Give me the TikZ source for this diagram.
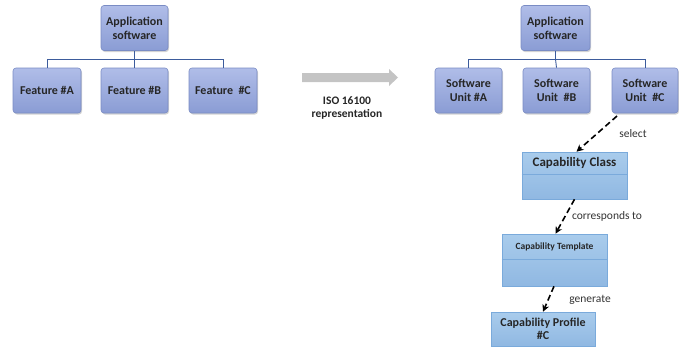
\documentclass[tikz,border=0pt]{standalone}
\usepackage{fontspec}
\setmainfont{Carlito}
\usetikzlibrary{arrows.meta,shadows}
\definecolor{treeTop}{HTML}{B0BDE8}
\definecolor{treeBot}{HTML}{8A9CD4}
\definecolor{treeBorder}{HTML}{7A8CC4}
\definecolor{treeLine}{HTML}{3D5C9C}
\definecolor{capTop}{HTML}{A9CCEC}
\definecolor{capBot}{HTML}{90B8E2}
\definecolor{capBorder}{HTML}{7AAADB}
\definecolor{arrowGray}{HTML}{C4C4C4}
\tikzset{
  treebox/.style={draw=treeBorder, line width=0.6pt, rounded corners=3pt,
    top color=treeTop, bottom color=treeBot, minimum height=45pt,
    inner sep=1pt, align=center, font=\bfseries\fontsize{12}{14}\selectfont,
    text=black!85, drop shadow={shadow xshift=1pt, shadow yshift=-1.5pt, opacity=0.35}},
  capbox/.style={draw=capBorder, line width=0.6pt, top color=capTop, bottom color=capBot,
    inner sep=0pt},
  treeline/.style={draw=treeLine, line width=0.9pt},
  dasharrow/.style={draw=black, line width=1.6pt, dash pattern=on 6pt off 3.5pt,
    -{Stealth[length=7pt,width=7pt]}},
  lbl/.style={font=\fontsize{11.5}{13}\selectfont, text=black!80},
}
\begin{document}
\begin{tikzpicture}[x=1pt,y=-1pt]
\useasboundingbox (0,0) rectangle (679,349);
% left tree
\node[treebox, minimum width=67pt] (appL) at (134.5,28) {Application\\software};
\node[treebox, minimum width=68pt] (fa) at (47,90.5) {Feature \#A};
\node[treebox, minimum width=67pt] (fb) at (134.5,90.5) {Feature \#B};
\node[treebox, minimum width=68pt] (fc) at (223,90.5) {Feature\ ~\#C};
\coordinate (jL) at (134.5,59);
\draw[treeline] (appL.south) -- (jL);
\draw[treeline] (jL) -| (fa.north);
\draw[treeline] (jL) -| (fc.north);
\draw[treeline] (jL) -- (fb.north);
% gray arrow
\fill[arrowGray] (302,73) -- (389,73) -- (389,69) -- (398,77.5) -- (389,86) -- (389,82) -- (302,82) -- cycle;
\node[align=center, font=\bfseries\fontsize{11.5}{13}\selectfont, text=black!85] (iso) at (347,107.5) {ISO 16100\\representation};
% right tree
\node[treebox, minimum width=69pt] (appR) at (555.5,28) {Application\\software};
\node[treebox, minimum width=67pt] (ua) at (468.5,90.5) {Software\\Unit \#A};
\node[treebox, minimum width=67pt] (ub) at (556.5,90.5) {Software\\Unit\ ~\#B};
\node[treebox, minimum width=66pt] (uc) at (645,90.5) {Software\\Unit\ ~\#C};
\coordinate (jR) at (555.5,59);
\draw[treeline] (appR.south) -- (jR);
\draw[treeline] (jR) -| (ua.north);
\draw[treeline] (jR) -| (uc.north);
\draw[treeline] (jR) -- (ub.north);
% capability class
\node[capbox, minimum width=105pt, minimum height=47pt] (cls) at (574.5,175.5) {};
\draw[capBorder, line width=0.8pt] (cls.west |- 0,174) -- (cls.east |- 0,174);
\node[font=\bfseries\fontsize{13}{14}\selectfont, text=black!85] (clsT) at (574.5,163) {Capability Class};
% capability template
\node[capbox, minimum width=105pt, minimum height=52pt] (tpl) at (554.5,260) {};
\draw[capBorder, line width=0.8pt] (tpl.west |- 0,259) -- (tpl.east |- 0,259);
\node[font=\bfseries\fontsize{9.5}{11}\selectfont, text=black!85] (tplT) at (554.5,246.5) {Capability Template};
% capability profile
\node[capbox, minimum width=104pt, minimum height=34pt, align=center,
  font=\bfseries\fontsize{12}{13.5}\selectfont, text=black!85] (prof) at (543,329) {Capability Profile\\\#C};
% dashed arrows
\coordinate (s1) at (617,116);
\draw[dasharrow] (s1) -- ([xshift=2pt]cls.north);
\draw[dasharrow] (cls.south) -- ([xshift=1pt]tpl.north);
\draw[dasharrow] ([xshift=-0.5pt]tpl.south) -- (prof.north);
\node[lbl] (l1) at (633,134) {select};
\node[lbl] (l2) at (607,216) {corresponds to};
\node[lbl] (l3) at (590,300) {generate};
\end{tikzpicture}
\end{document}
